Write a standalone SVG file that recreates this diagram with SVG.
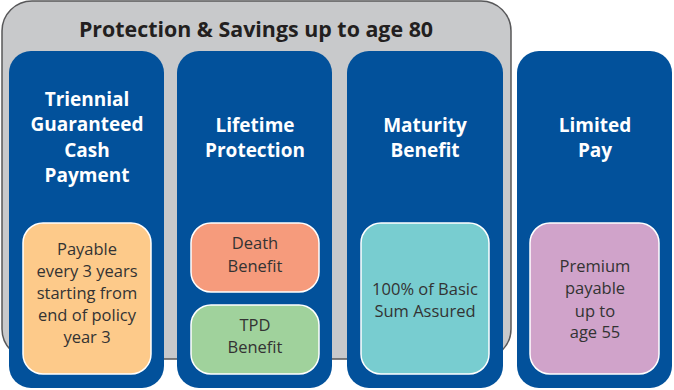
<svg xmlns="http://www.w3.org/2000/svg" width="674" height="390" viewBox="0 0 674 390">
<style>
.col{fill:#02519b}
.inner{stroke:#ffffff;stroke-width:1.5}
.head{font-family:"Open Sans","Liberation Sans",sans-serif;font-weight:bold;font-size:19px;fill:#ffffff;text-anchor:middle}
.body{font-family:"Open Sans","Liberation Sans",sans-serif;font-size:16.5px;fill:#333333;text-anchor:middle}
.title{font-family:"Open Sans","Liberation Sans",sans-serif;font-weight:bold;font-size:21.4px;fill:#231f20;text-anchor:middle}
</style>
<rect width="674" height="390" fill="#ffffff"/>
<g id="group-protection">
<rect x="2" y="1" width="509" height="358" rx="30" fill="#c8c9cb" stroke="#58585a" stroke-width="1.5"/>
<text class="title" x="256" y="37">Protection &amp; Savings up to age 80</text>
</g>
<g id="col-triennial">
<rect class="col" x="9" y="51" width="155" height="337" rx="22"/>
<text class="head" x="87" y="106">Triennial</text>
<text class="head" x="87" y="131">Guaranteed</text>
<text class="head" x="87" y="157">Cash</text>
<text class="head" x="87" y="182">Payment</text>
</g>
<g id="box-payable">
<rect class="inner" x="23" y="223" width="128" height="151" rx="20" fill="#fdca8a"/>
<text class="body" x="87" y="255">Payable</text>
<text class="body" x="87" y="277">every 3 years</text>
<text class="body" x="87" y="299">starting from</text>
<text class="body" x="87" y="321">end of policy</text>
<text class="body" x="87" y="343">year 3</text>
</g>
<g id="col-lifetime">
<rect class="col" x="177" y="51" width="155" height="337" rx="22"/>
<text class="head" x="255" y="132">Lifetime</text>
<text class="head" x="255" y="157">Protection</text>
</g>
<g id="box-death">
<rect class="inner" x="191" y="223" width="128" height="69" rx="20" fill="#f69b7c"/>
<text class="body" x="255" y="249">Death</text>
<text class="body" x="255" y="272">Benefit</text>
</g>
<g id="box-tpd">
<rect class="inner" x="191" y="305" width="128" height="69" rx="20" fill="#a0d29c"/>
<text class="body" x="255" y="331">TPD</text>
<text class="body" x="255" y="353">Benefit</text>
</g>
<g id="col-maturity">
<rect class="col" x="347" y="51" width="156" height="337" rx="22"/>
<text class="head" x="425" y="132">Maturity</text>
<text class="head" x="425" y="157">Benefit</text>
</g>
<g id="box-basic">
<rect class="inner" x="361" y="223" width="128" height="151" rx="20" fill="#78cdd0"/>
<text class="body" x="425" y="295">100% of Basic</text>
<text class="body" x="425" y="317">Sum Assured</text>
</g>
<g id="col-limited">
<rect class="col" x="517" y="51" width="155" height="337" rx="22"/>
<text class="head" x="595" y="132">Limited</text>
<text class="head" x="595" y="157">Pay</text>
</g>
<g id="box-premium">
<rect class="inner" x="530" y="223" width="129" height="151" rx="20" fill="#d0a3ca"/>
<text class="body" x="595" y="272">Premium</text>
<text class="body" x="595" y="294">payable</text>
<text class="body" x="595" y="317">up to</text>
<text class="body" x="595" y="338">age 55</text>
</g>
<g id="connectors"></g>
</svg>
